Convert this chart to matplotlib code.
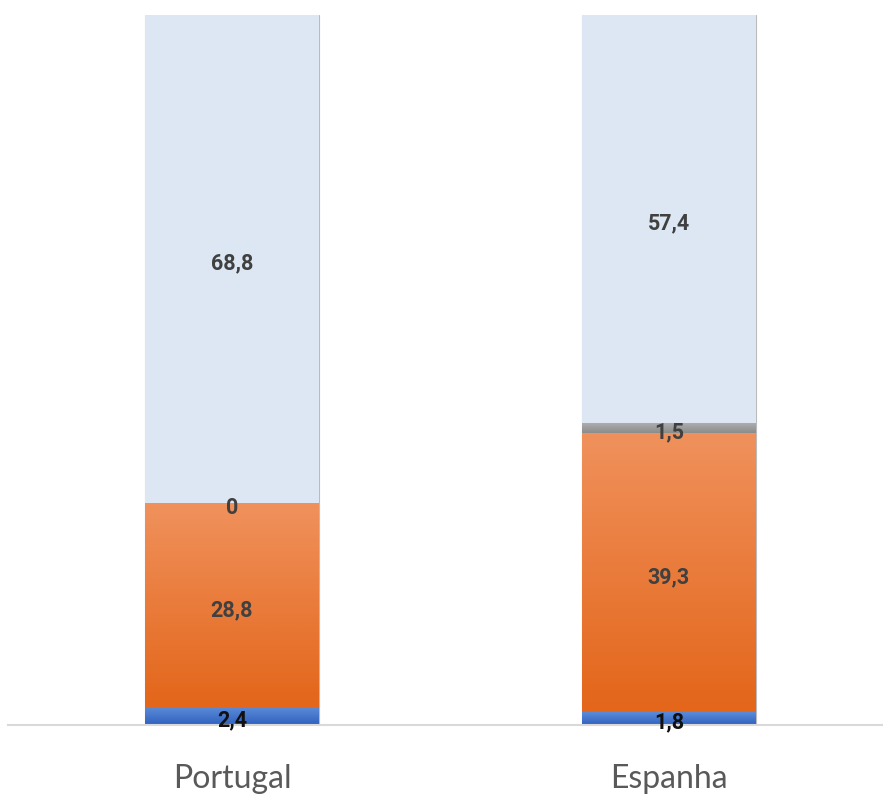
import matplotlib
matplotlib.use("Agg")
import matplotlib.pyplot as plt
import numpy as np
from matplotlib.colors import LinearSegmentedColormap

categories = ["Portugal", "Espanha"]
azul = [2.4, 1.8]
laranja = [28.8, 39.3]
cinza = [0, 1.5]
claro = [68.8, 57.4]
labels_azul = ["2,4", "1,8"]
labels_laranja = ["28,8", "39,3"]
labels_cinza = ["0", "1,5"]
labels_claro = ["68,8", "57,4"]

fig = plt.figure(figsize=(8.83, 8.01), dpi=100)
ax = fig.add_axes([8 / 883, 1 - 725 / 801, 875 / 883, 710 / 801])

x = np.arange(len(categories))
width = 0.398

series = [
    (azul, labels_azul, ("#2F62C0", "#5C8BD8"), "#3A6CC8"),
    (laranja, labels_laranja, ("#E3661A", "#F0915C"), "#EC7A30"),
    (cinza, labels_cinza, ("#8C8C8C", "#B0B0B0"), "#A0A0A0"),
    (claro, labels_claro, ("#DCE7F3", "#DCE7F3"), "#DCE7F3"),
]

bottom = np.zeros(len(categories))
for vals, labs, (c0, c1), base in series:
    bars = ax.bar(x, vals, width, bottom=bottom, color=base, linewidth=0, zorder=2)
    cmap = LinearSegmentedColormap.from_list("g", [c0, c1])
    for b in bars:
        if b.get_height() <= 0:
            continue
        x0, y0 = b.get_x(), b.get_y()
        grad = np.linspace(1, 0, 64).reshape(-1, 1)
        im = ax.imshow(grad, cmap=cmap, aspect="auto", zorder=2.5,
                       extent=(x0, x0 + b.get_width(), y0, y0 + b.get_height()),
                       interpolation="bicubic")
        im.set_clip_path(b)
    for xi, v, bt, lab in zip(x, vals, bottom, labs):
        ax.annotate(lab, (xi, bt + v / 2), xytext=(0, -3), textcoords="offset points",
                    ha="center", va="center", fontsize=15.5, fontweight="bold",
                    color="#111111" if vals is azul else "#404040",
                    family=["Roboto", "DejaVu Sans"], zorder=5)
    bottom = bottom + np.array(vals)

# thin outline standing in for the soft shadow
ax.bar(x, bottom, width, color="none", edgecolor="#bbbbbb", linewidth=0.8, zorder=1.5)

ax.set_xlim(-0.5126, 1.49)
ax.set_ylim(0, 100)
ax.set_xticks(x)
ax.set_xticklabels(categories, fontsize=23, color="#595959", family=["Lato", "DejaVu Sans"])
ax.tick_params(axis="x", length=0, pad=28)
ax.set_yticks([])
for s in ["top", "right", "left"]:
    ax.spines[s].set_visible(False)
ax.spines["bottom"].set_color("#D9D9D9")
ax.spines["bottom"].set_linewidth(1.5)

fig.savefig("out.png", dpi=100)
